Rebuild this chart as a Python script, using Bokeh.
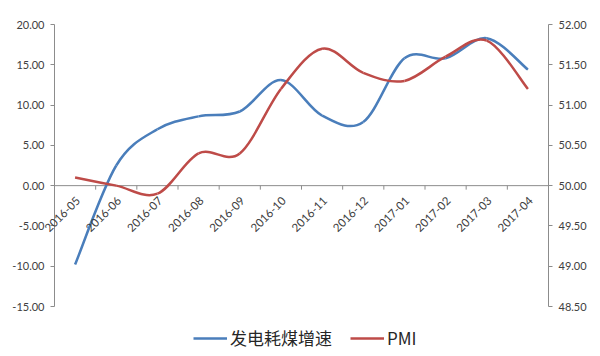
import numpy as np
from bokeh.plotting import figure
from bokeh.models import Range1d, LinearAxis, FixedTicker, Legend, LegendItem, NumeralTickFormatter, Label
from bokeh.embed import file_html
from bokeh.resources import INLINE

months = ["2016-05", "2016-06", "2016-07", "2016-08", "2016-09", "2016-10",
          "2016-11", "2016-12", "2017-01", "2017-02", "2017-03", "2017-04"]
coal_growth = [-9.8, 2.5, 7.0, 8.6, 9.2, 13.1, 8.7, 7.9, 15.8, 15.8, 18.3, 14.4]
pmi = [50.1, 50.0, 49.9, 50.4, 50.4, 51.2, 51.7, 51.4, 51.3, 51.6, 51.8, 51.2]
left_ticks = [20, 15, 10, 5, 0, -5, -10, -15]
right_ticks = [52.0, 51.5, 51.0, 50.5, 50.0, 49.5, 49.0, 48.5]

BLUE = "#4A7EBB"
RED = "#BE4B48"
AXIS = "#8C8C8C"
TXT = "#404040"

W, H = 600, 356
TOP_PX, BOT_PX = 24, 306     # pixel rows of top / bottom tick
LEFT_PX, RIGHT_PX = 54, 548  # pixel columns of the two value axes
n = len(months)
l_top, l_bot = max(left_ticks), min(left_ticks)
r_top, r_bot = max(right_ticks), min(right_ticks)
lpp = (l_top - l_bot) / (BOT_PX - TOP_PX)
rpp = (r_top - r_bot) / (BOT_PX - TOP_PX)
upp = n / (RIGHT_PX - LEFT_PX)

p = figure(width=W, height=H, output_backend="svg", toolbar_location=None,
           x_range=Range1d(-LEFT_PX * upp, n + (W - RIGHT_PX) * upp),
           y_range=Range1d(l_bot - (H - BOT_PX) * lpp, l_top + TOP_PX * lpp),
           x_axis_location=None, y_axis_location=None,
           min_border_left=0, min_border_right=0, min_border_top=0, min_border_bottom=0,
           outline_line_color=None, background_fill_color="white", border_fill_color="white")
p.xgrid.visible = False
p.ygrid.visible = False
p.extra_y_ranges = {"pmi": Range1d(r_bot - (H - BOT_PX) * rpp, r_top + TOP_PX * rpp)}

def style_axis(ax):
    ax.axis_line_color = AXIS
    ax.major_tick_line_color = AXIS
    ax.minor_tick_line_color = None
    ax.major_tick_in = 0
    ax.major_tick_out = 4
    ax.major_label_standoff = 6
    ax.major_label_text_font = "Lato"
    ax.major_label_text_font_size = "11px"
    ax.major_label_text_color = TXT
    ax.formatter = NumeralTickFormatter(format="0.00")

yl = LinearAxis(ticker=FixedTicker(ticks=left_ticks), bounds=(l_bot, l_top), fixed_location=0)
style_axis(yl)
p.add_layout(yl, "left")

yr = LinearAxis(y_range_name="pmi", ticker=FixedTicker(ticks=right_ticks),
                bounds=(r_bot, r_top), fixed_location=n)
style_axis(yr)
p.add_layout(yr, "right")

# category axis crossing at zero
p.segment(x0=[0], y0=[0], x1=[n], y1=[0], line_color=AXIS, line_width=1)
bounds_x = list(range(1, n))
p.ray(x=bounds_x, y=[0] * len(bounds_x), length=4, length_units="screen",
      angle=-np.pi / 2, line_color=AXIS, line_width=1)
xc = [i + 0.5 for i in range(n)]
for xv, m in zip(xc, months):
    p.add_layout(Label(x=xv, y=0, text=m, angle=np.pi / 4, x_offset=3, y_offset=-13,
                       text_align="right", text_baseline="middle",
                       text_font="Lato", text_font_size="11.5px", text_color=TXT))

def smooth(xs, ys):
    xs = np.asarray(xs, float); ys = np.asarray(ys, float)
    k = len(xs)
    x0, y0, x1, y1, cx0, cy0, cx1, cy1 = ([] for _ in range(8))
    for i in range(k - 1):
        ip = max(i - 1, 0); inn = min(i + 2, k - 1)
        x0.append(xs[i]); y0.append(ys[i]); x1.append(xs[i + 1]); y1.append(ys[i + 1])
        cx0.append(xs[i] + (xs[i + 1] - xs[ip]) / 6); cy0.append(ys[i] + (ys[i + 1] - ys[ip]) / 6)
        cx1.append(xs[i + 1] - (xs[inn] - xs[i]) / 6); cy1.append(ys[i + 1] - (ys[inn] - ys[i]) / 6)
    return dict(x0=x0, y0=y0, x1=x1, y1=y1, cx0=cx0, cy0=cy0, cx1=cx1, cy1=cy1)

rb = p.bezier(**smooth(xc, coal_growth), line_color=BLUE, line_width=2.5)
rr = p.bezier(**smooth(xc, pmi), line_color=RED, line_width=2.5, y_range_name="pmi")

legend = Legend(items=[LegendItem(label="发电耗煤增速", renderers=[rb]),
                       LegendItem(label="PMI", renderers=[rr])],
                orientation="horizontal", location=(193, 6),
                glyph_width=34, glyph_height=20, label_standoff=3, spacing=18,
                padding=0, margin=0, border_line_color=None, background_fill_alpha=0,
                label_text_font="Noto Sans CJK SC", label_text_font_size="17px",
                label_text_color="#262626")
p.add_layout(legend)

open("out.html", "w").write(file_html(p, INLINE))
